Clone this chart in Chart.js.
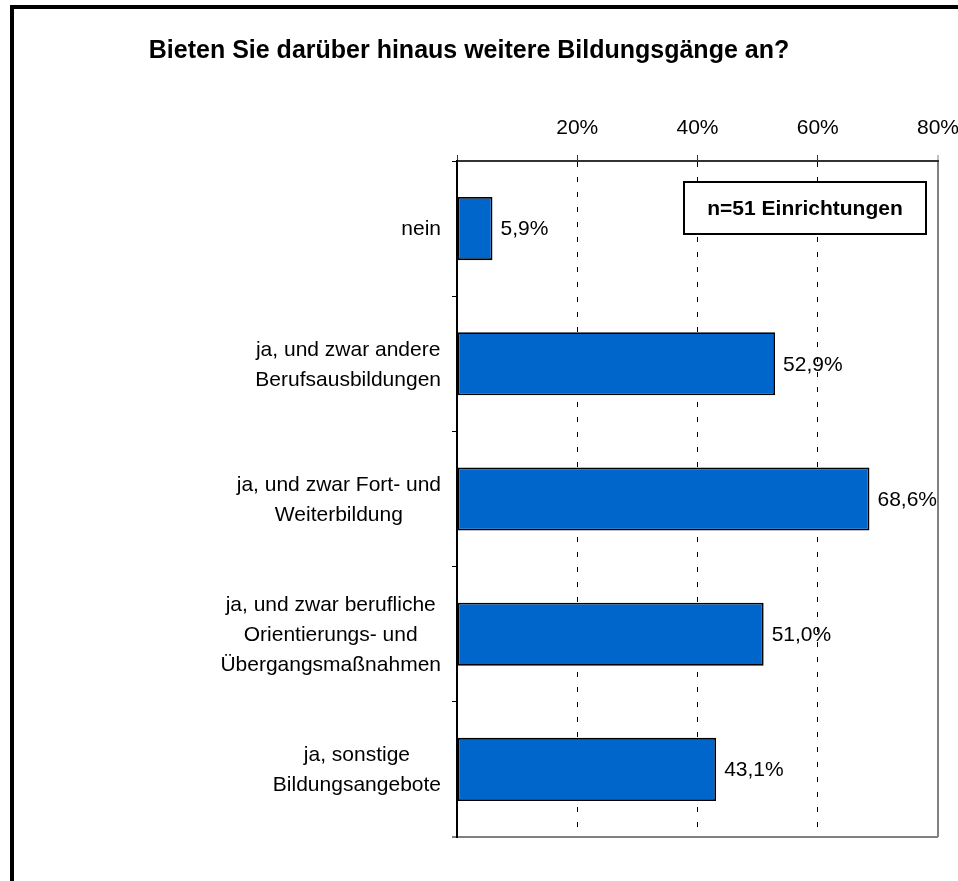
<!DOCTYPE html>
<html><head><meta charset="utf-8">
<script src="https://cdn.jsdelivr.net/npm/chart.js@4/dist/chart.umd.min.js"></script>
<style>html,body{margin:0;padding:0;background:#fff;}#wrap{width:958px;height:881px;}</style>
</head><body><div id="wrap"><canvas id="c" width="958" height="881"></canvas></div>
<script>
const titleText = 'Bieten Sie darüber hinaus weitere Bildungsgänge an?';
const categories = [
  ['nein'],
  ['ja, und zwar andere', 'Berufsausbildungen'],
  ['ja, und zwar Fort- und', 'Weiterbildung'],
  ['ja, und zwar berufliche', 'Orientierungs- und', 'Übergangsmaßnahmen'],
  ['ja, sonstige', 'Bildungsangebote']
];
const values = [5.9, 52.9, 68.6, 51.0, 43.1];
const tickLabels = ['', '20%', '40%', '60%', '80%'];
const noteText = 'n=51 Einrichtungen';

const FONT = "'Liberation Sans', Arial, sans-serif";

const decor = {
  id: 'decor',
  beforeDraw(chart) {
    const ctx = chart.ctx;
    ctx.save();
    ctx.fillStyle = '#fff';
    ctx.fillRect(0, 0, chart.width, chart.height);
    ctx.fillStyle = '#000';
    ctx.fillRect(10, 5, chart.width - 10, 4);
    ctx.fillRect(10, 5, 4, chart.height - 5);
    ctx.restore();
  },
  afterDraw(chart) {
    const ctx = chart.ctx, ca = chart.chartArea;
    const ys = chart.scales.y;
    ctx.save();
    ctx.fillStyle = '#000';
    ctx.font = '21px ' + FONT;
    ctx.textBaseline = 'middle';
    const lh = 30;
    categories.forEach((lines, i) => {
      const cy = ys.getPixelForValue(i) + 1;
      let w = 0;
      lines.forEach(l => { w = Math.max(w, ctx.measureText(l).width); });
      const cx = ca.left - 16 - w / 2;
      ctx.textAlign = 'center';
      lines.forEach((l, j) => ctx.fillText(l, cx, cy + (j - (lines.length - 1) / 2) * lh));
    });
    ctx.textAlign = 'left';
    const meta = chart.getDatasetMeta(0);
    meta.data.forEach((bar, i) => {
      ctx.fillText(values[i].toFixed(1).replace('.', ',') + '%', bar.x + 8, bar.y + 1);
    });
    // note box
    const bx = ca.right - 254, by = ca.top + 21, bw = 242, bh = 52;
    ctx.fillStyle = '#fff';
    ctx.fillRect(bx, by, bw, bh);
    ctx.strokeStyle = '#000';
    ctx.lineWidth = 2;
    ctx.strokeRect(bx, by, bw, bh);
    ctx.fillStyle = '#000';
    ctx.font = 'bold 21px ' + FONT;
    ctx.textAlign = 'center';
    ctx.fillText(noteText, bx + bw / 2, by + bh / 2 + 1);
    ctx.restore();
  }
};

const isLastY = c => c.type !== 'tick';

new Chart(document.getElementById('c'), {
  type: 'bar',
  data: {
    labels: categories,
    datasets: [{
      data: values,
      backgroundColor: '#0066CC',
      borderColor: '#000',
      borderWidth: 1.8,
      borderSkipped: false,
      barPercentage: 0.467,
      categoryPercentage: 1
    }]
  },
  options: {
    indexAxis: 'y',
    responsive: false,
    devicePixelRatio: 1,
    animation: false,
    layout: { padding: { top: 0, left: 0, right: 20, bottom: 44 } },
    plugins: {
      legend: { display: false },
      tooltip: { enabled: false },
      title: {
        display: true,
        text: titleText,
        color: '#000',
        font: { family: FONT, size: 25, weight: 'bold', lineHeight: 1.2 },
        padding: { top: 36, bottom: 34 }
      }
    },
    scales: {
      x: {
        position: 'top',
        min: 0,
        max: 80,
        ticks: {
          stepSize: 20,
          color: '#000',
          padding: 14,
          font: { family: FONT, size: 21 },
          callback: (v, i) => tickLabels[i]
        },
        grid: {
          color: c => c.tick && c.tick.value === 0 ? 'rgba(0,0,0,0)' : (c.tick && c.tick.value === 80 ? '#808080' : '#000'),
          lineWidth: c => c.tick && c.tick.value === 80 ? 2 : 1,
          tickColor: c => c.tick && c.tick.value === 80 ? '#808080' : '#333',
          tickWidth: 1,
          tickLength: 6,
          tickBorderDash: []
        },
        border: {
          display: true,
          color: '#333',
          width: 2,
          dash: c => (c.type === 'tick' && c.tick && c.tick.value !== 80) ? [5, 10] : []
        },
        afterFit: s => { s.height = 61; s.paddingLeft = 0; s.paddingRight = 0; }
      },
      y: {
        position: 'left',
        ticks: { display: false },
        grid: {
          offset: true,
          drawOnChartArea: true,
          color: c => isLastY(c) ? '#808080' : 'rgba(0,0,0,0)',
          lineWidth: c => isLastY(c) ? 2 : 1,
          tickColor: c => isLastY(c) ? '#808080' : '#000',
          tickWidth: c => isLastY(c) ? 2 : 1,
          tickLength: 5
        },
        border: { display: true, color: '#000', width: 2 },
        afterFit: s => { s.width = 457; s.paddingTop = 0; s.paddingBottom = 0; }
      }
    }
  },
  plugins: [decor]
});
</script>
</body></html>
